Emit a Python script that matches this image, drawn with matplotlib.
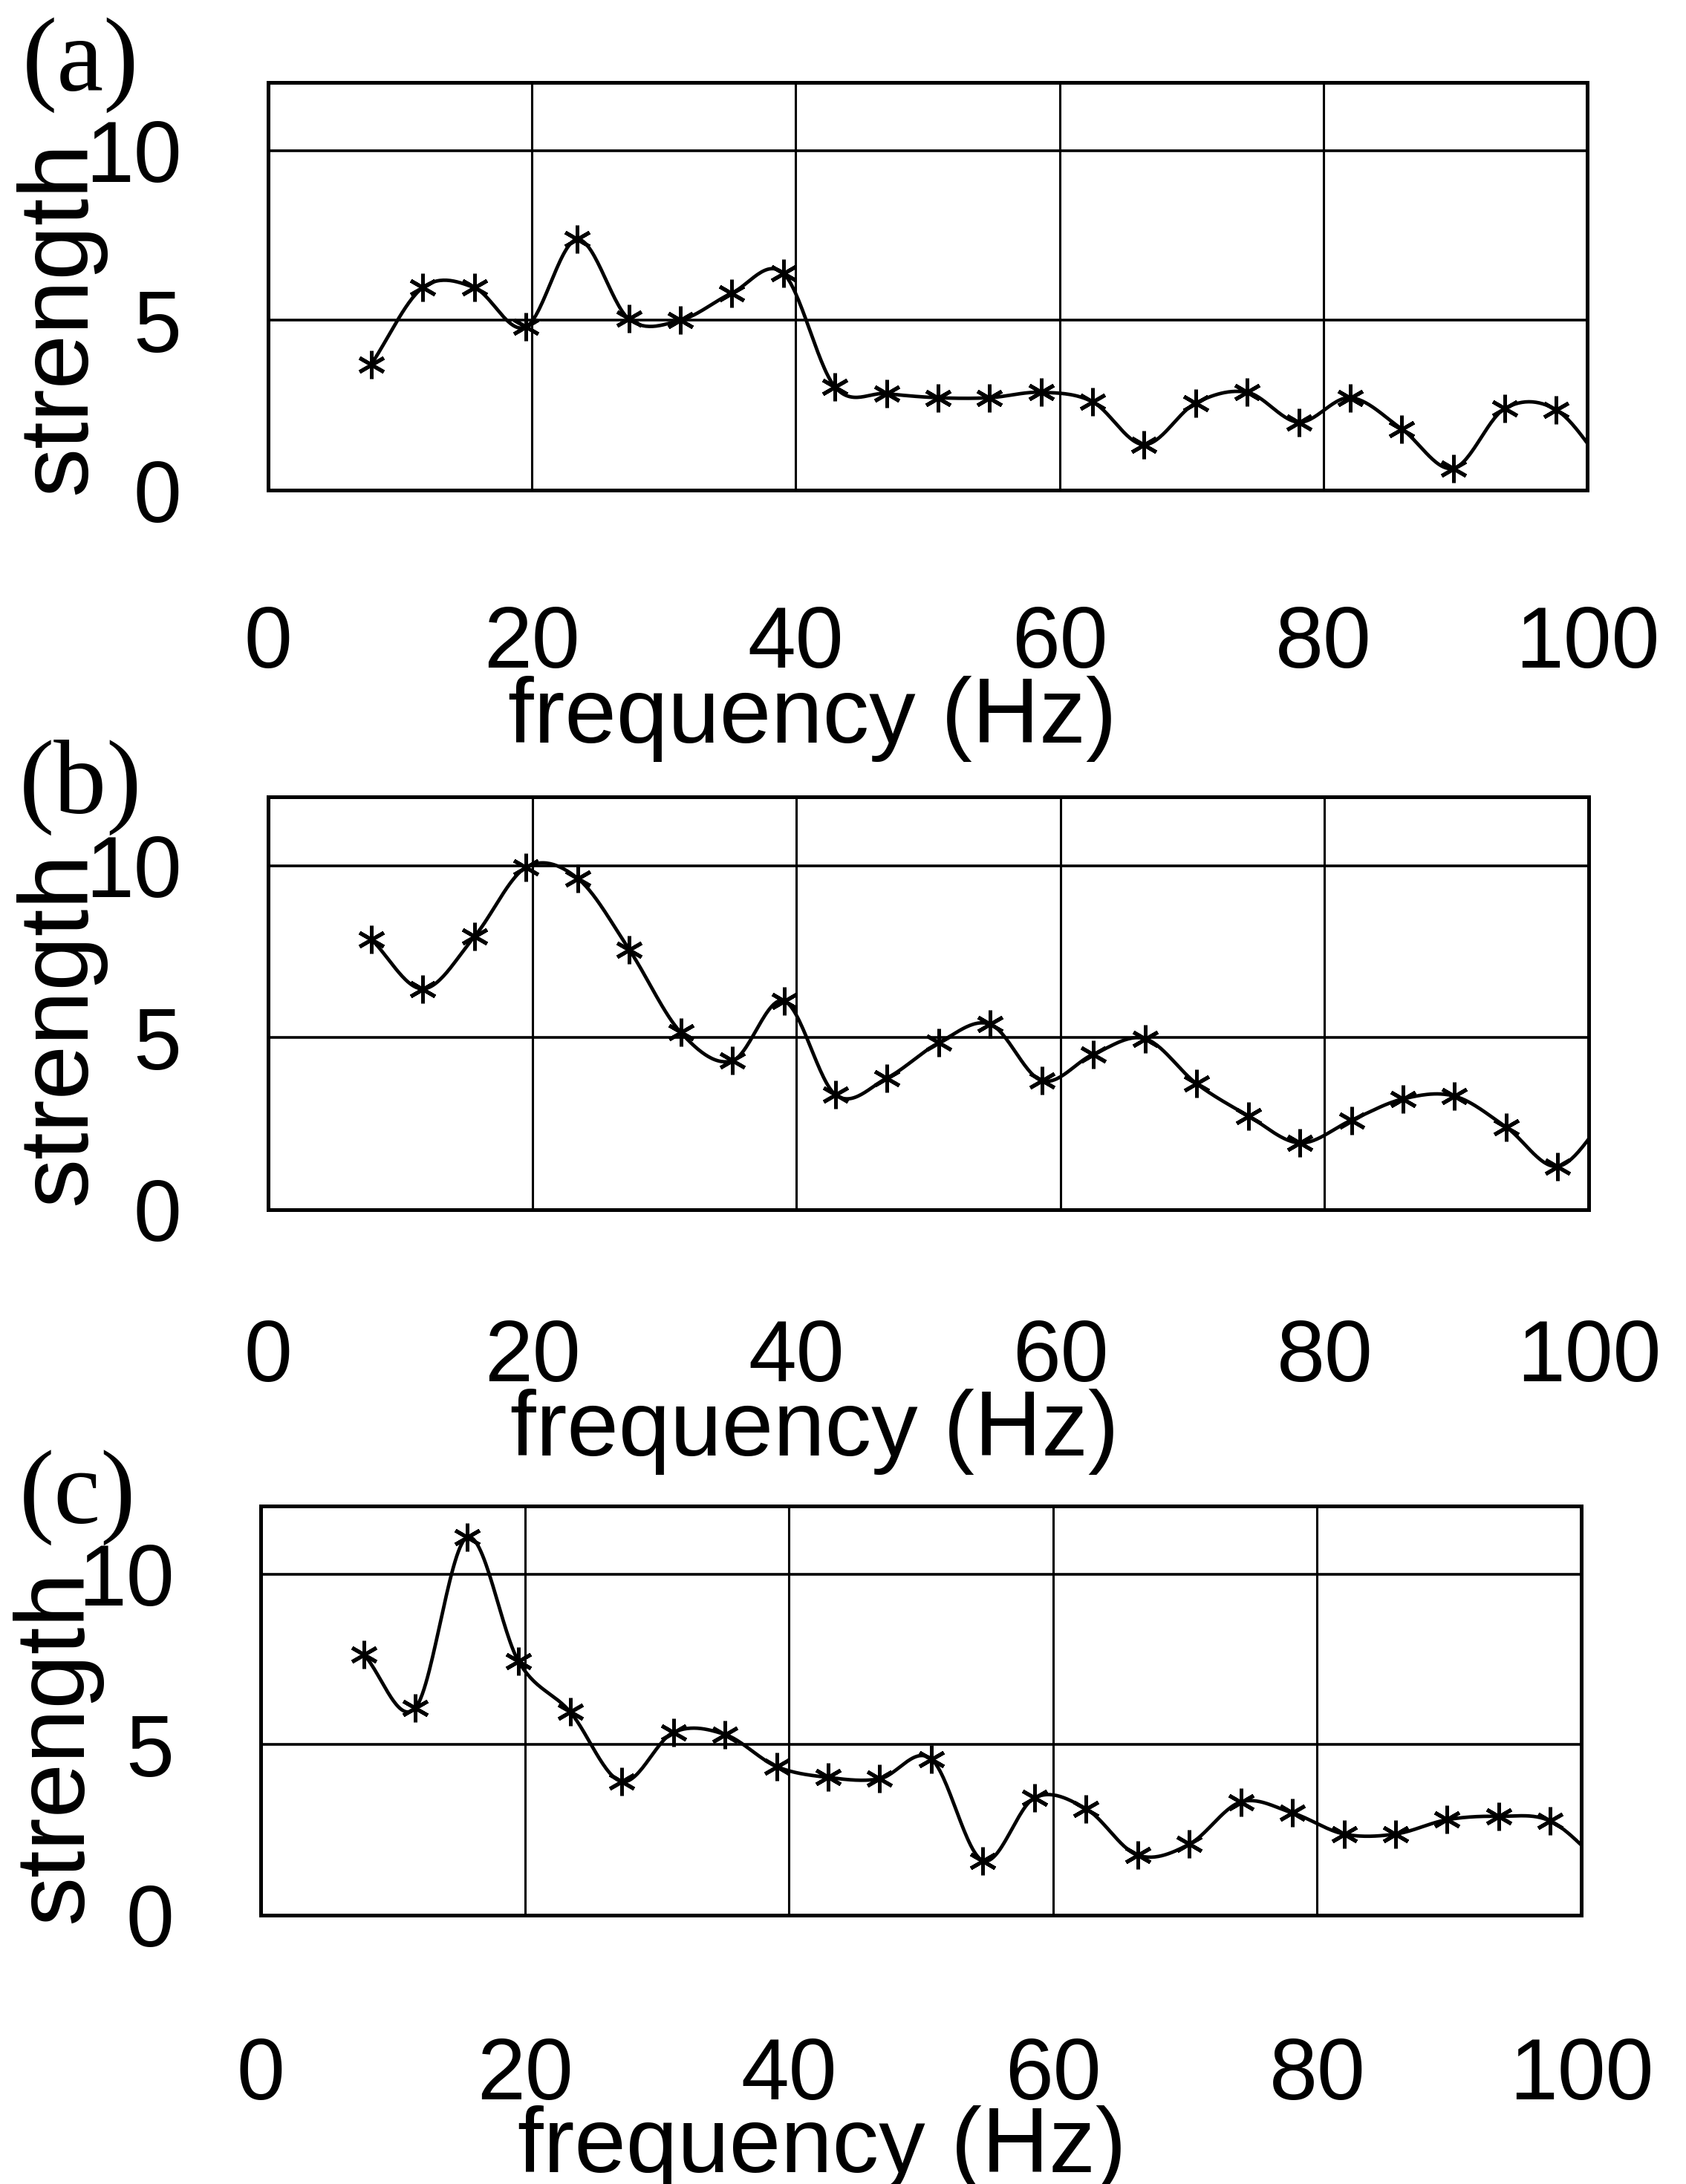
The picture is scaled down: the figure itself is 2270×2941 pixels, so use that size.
import numpy as np
import matplotlib
matplotlib.use("Agg")
import matplotlib.pyplot as plt

W, H = 2270, 2941
DPI = 100

# frequency bins of k*1000/256 Hz, k = 2..26 (the last bin lies past 100 Hz and only shapes the curve)
freq = np.arange(2, 27) * 1000 / 256

strength_a = [3.70, 5.96, 5.96, 4.80, 7.38, 5.04, 5.00, 5.80, 6.38, 3.04, 2.84, 2.72, 2.72,
              2.88, 2.60, 1.34, 2.56, 2.88, 2.00, 2.72, 1.80, 0.64, 2.40, 2.36, 0.60]
strength_b = [7.86, 6.42, 7.94, 9.95, 9.63, 7.56, 5.15, 4.33, 6.07, 3.34, 3.83, 4.85, 5.39,
              3.75, 4.52, 4.97, 3.66, 2.73, 1.94, 2.60, 3.22, 3.30, 2.40, 1.26, 2.80]
strength_c = [7.64, 6.08, 11.08, 7.44, 5.96, 3.92, 5.36, 5.30, 4.36, 4.04, 4.00, 4.58, 1.60,
              3.44, 3.12, 1.76, 2.08, 3.32, 3.00, 2.38, 2.38, 2.80, 2.90, 2.76, 1.50]
n_marked = 24

panel_labels = ["(a)", "(b)", "(c)"]
xticks = [0, 20, 40, 60, 80, 100]
yticks = [0, 5, 10]
xlabel = "frequency (Hz)"
ylabel = "strength"

# axes boxes in pixels: left, right, top, bottom
boxes = [(361, 2137, 111, 660), (361, 2139, 1073, 1629), (351, 2129, 2028, 2579)]
xpads = [111, 105, 117]
tag_pos = [(108, 88), (108, 1060), (104, 2017)]
xlab_pos = [(1094, 968), (1097, 1928), (1107, 2893)]
ylab_pos = [(81, 428), (81, 1385), (76, 2352)]


def catmull_rom(x, y, n=30):
    x = np.asarray(x, float)
    y = np.asarray(y, float)
    m = np.gradient(y, x)
    xs, ys = [], []
    for i in range(len(x) - 1):
        h = x[i + 1] - x[i]
        t = np.linspace(0, 1, n, endpoint=False)
        h00 = 2 * t**3 - 3 * t**2 + 1
        h10 = t**3 - 2 * t**2 + t
        h01 = -2 * t**3 + 3 * t**2
        h11 = t**3 - t**2
        xs.append(x[i] + t * h)
        ys.append(h00 * y[i] + h10 * h * m[i] + h01 * y[i + 1] + h11 * h * m[i + 1])
    xs.append([x[-1]])
    ys.append([y[-1]])
    return np.concatenate(xs), np.concatenate(ys)


plt.rcParams['font.family'] = ['Liberation Sans', 'DejaVu Sans']
fig = plt.figure(figsize=(W / DPI, H / DPI), dpi=DPI)
fig.patch.set_facecolor("white")

for i, series in enumerate([strength_a, strength_b, strength_c]):
    left, right, top, bottom = boxes[i]
    ax = fig.add_axes([left / W, 1 - bottom / H, (right - left) / W, (bottom - top) / H])
    ax.set_xlim(0, 100)
    ax.set_ylim(0, 12)
    ax.set_xticks(xticks)
    ax.set_yticks(yticks)
    ax.tick_params(length=0, labelsize=84)
    ax.tick_params(axis='x', pad=xpads[i])
    ax.tick_params(axis='y', pad=84)
    for v in [20, 40, 60, 80]:
        ax.axvline(v, color="black", lw=2.2, zorder=1)
    for v in [5, 10]:
        ax.axhline(v, color="black", lw=2.6, zorder=1)
    for s in ax.spines.values():
        s.set_linewidth(3.6)

    cx, cy = catmull_rom(freq, series)
    ax.plot(cx, cy, color="black", lw=3.4, zorder=3)
    ax.plot(freq[:n_marked], series[:n_marked], linestyle="none", marker=(6, 2, 0),
            ms=27, mew=3.6, color="black", zorder=4)

    fig.text(xlab_pos[i][0] / W, 1 - xlab_pos[i][1] / H, xlabel, fontsize=90,
             ha="center", va="center")
    fig.text(ylab_pos[i][0] / W, 1 - ylab_pos[i][1] / H, ylabel, fontsize=95, rotation=90,
             ha="center", va="center")
    fig.text(tag_pos[i][0] / W, 1 - tag_pos[i][1] / H, panel_labels[i], fontsize=102,
             family=["Liberation Serif", "DejaVu Serif"], ha="center", va="center")

fig.savefig("out.png", dpi=DPI, facecolor="white")
